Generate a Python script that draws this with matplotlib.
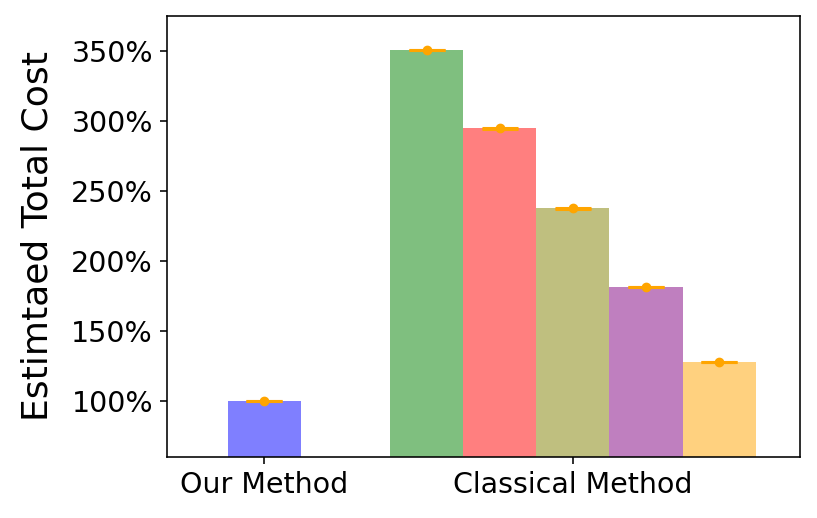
import matplotlib
matplotlib.use("Agg")
import matplotlib.pyplot as plt
from matplotlib.ticker import FuncFormatter

# 데이터 (percent)
groups = ["Our Method", "Classical Method"]
our_value = 100.0
classical_values = [350.7, 294.8, 237.6, 181.4, 127.9]
classical_colors = ["green", "red", "olive", "purple", "orange"]
our_color = "blue"

fig = plt.figure(figsize=(8.17, 5.18), dpi=100)
ax = fig.add_axes([0.2044, 0.1183, 0.7748, 0.8514])

w = 0.237

# Our method
ax.bar(0, our_value, width=w, color=our_color, alpha=0.5)
ax.errorbar(0, our_value, yerr=0.3, fmt='o', color='orange', markersize=6,
            capsize=13, capthick=2.2, elinewidth=2.2)

# Classical method (5 bars around x=1)
for i, (v, c) in enumerate(zip(classical_values, classical_colors)):
    x = 1 + (i - 2) * w
    ax.bar(x, v, width=w, color=c, alpha=0.5)
    ax.errorbar(x, v, yerr=0.3, fmt='o', color='orange', markersize=6,
                capsize=13, capthick=2.2, elinewidth=2.2)

ax.set_xlim(-0.315, 1.736)
ax.set_ylim(60.2, 375.2)
ax.set_xticks([0, 1])
ax.set_xticklabels(groups)
ax.yaxis.set_major_formatter(FuncFormatter(lambda v, p: "{:.0f}%".format(v)))
ax.tick_params(labelsize=20.5, length=5, width=1.15, pad=5)
for s in ax.spines.values():
    s.set_linewidth(1.15)
ax.set_ylabel("Estimtaed Total Cost", fontsize=26, labelpad=12)

fig.savefig("out.png", dpi=100)
